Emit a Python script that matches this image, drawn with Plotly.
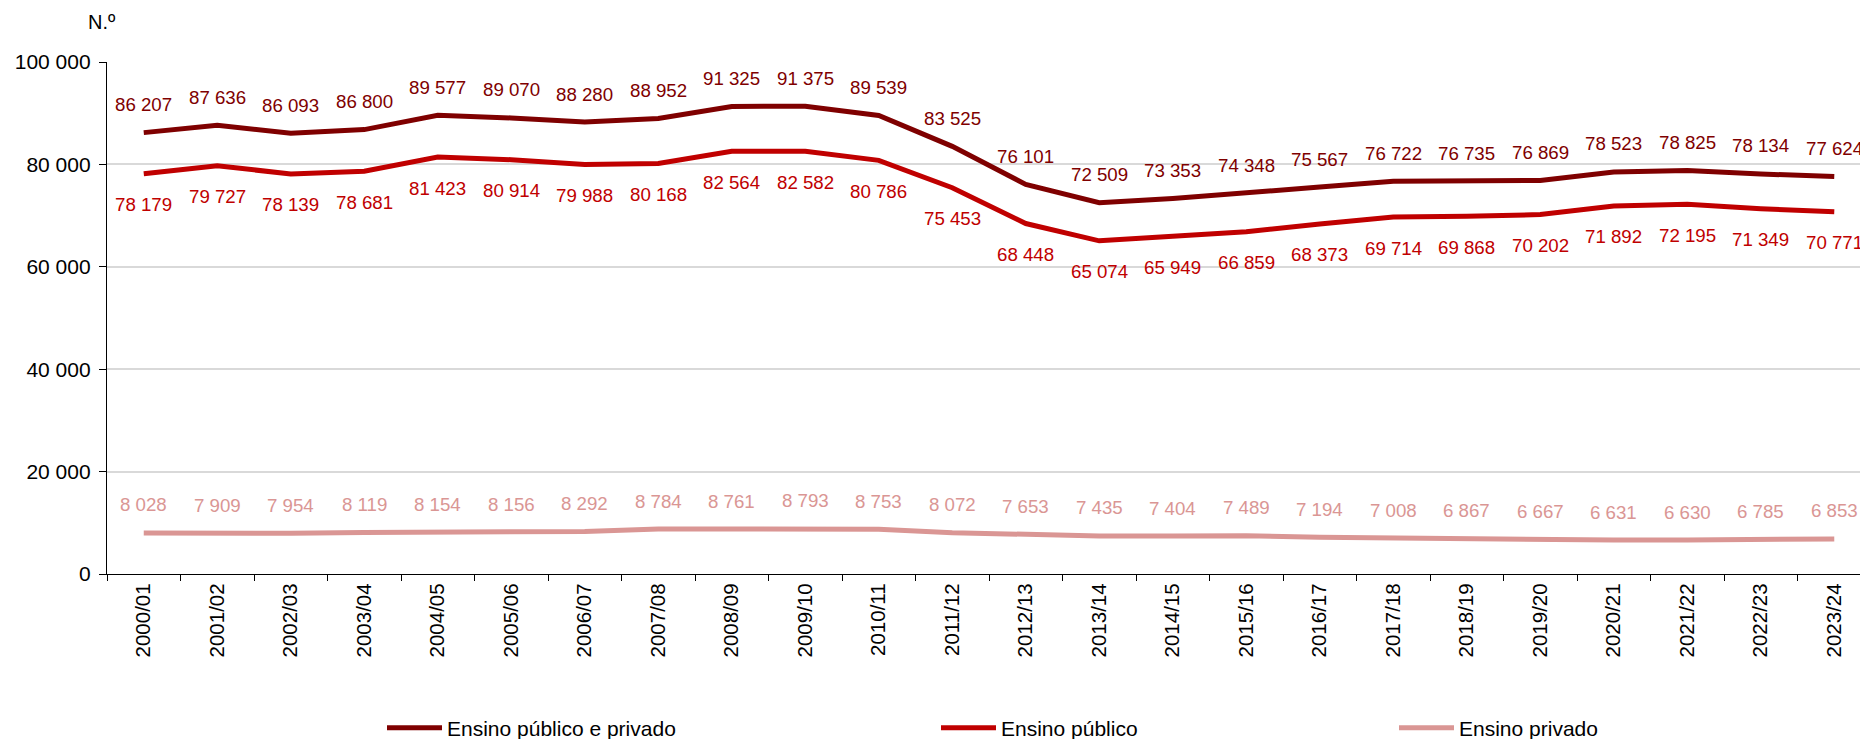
import plotly.graph_objects as go

# School years
years = ["2000/01", "2001/02", "2002/03", "2003/04", "2004/05", "2005/06",
         "2006/07", "2007/08", "2008/09", "2009/10", "2010/11", "2011/12",
         "2012/13", "2013/14", "2014/15", "2015/16", "2016/17", "2017/18",
         "2018/19", "2019/20", "2020/21", "2021/22", "2022/23", "2023/24"]

total = [86207, 87636, 86093, 86800, 89577, 89070, 88280, 88952, 91325, 91375,
         89539, 83525, 76101, 72509, 73353, 74348, 75567, 76722, 76735, 76869,
         78523, 78825, 78134, 77624]

publico = [78179, 79727, 78139, 78681, 81423, 80914, 79988, 80168, 82564, 82582,
           80786, 75453, 68448, 65074, 65949, 66859, 68373, 69714, 69868, 70202,
           71892, 72195, 71349, 70771]

privado = [8028, 7909, 7954, 8119, 8154, 8156, 8292, 8784, 8761, 8793,
           8753, 8072, 7653, 7435, 7404, 7489, 7194, 7008, 6867, 6667,
           6631, 6630, 6785, 6853]

y_ticks = [0, 20000, 40000, 60000, 80000, 100000]

FONT = "Liberation Sans, Arial, sans-serif"

series = [
    ("Ensino público e privado", total, "#7f0000", 28, "legend"),
    ("Ensino público", publico, "#c00000", -31, "legend2"),
    ("Ensino privado", privado, "#da9694", 28, "legend3"),
]


def fmt(v):
    return f"{v:,}".replace(",", " ")


fig = go.Figure()
annotations = []
for name, vals, color, shift, leg in series:
    fig.add_trace(go.Scatter(
        x=years, y=vals, name=name, mode="lines",
        line=dict(color=color, width=5),
        legend=leg, showlegend=True, hoverinfo="skip",
    ))
    for yr, v in zip(years, vals):
        annotations.append(dict(
            x=yr, y=v, xref="x", yref="y", text=fmt(v), showarrow=False,
            yshift=shift, font=dict(family=FONT, size=18.7, color=color),
        ))

annotations.append(dict(
    text="N.º", xref="paper", yref="paper", x=0, y=1, xanchor="center",
    yanchor="middle", xshift=-5, yshift=40, showarrow=False,
    font=dict(family=FONT, size=20, color="#000000"),
))

legend_common = dict(
    orientation="h", xref="container", yref="container", yanchor="middle",
    y=1 - 728 / 739, xanchor="left", itemwidth=55,
    font=dict(family=FONT, size=21, color="#000000"),
    bgcolor="rgba(0,0,0,0)", borderwidth=0,
)

fig.update_layout(
    width=1860, height=739,
    margin=dict(l=107, r=0, t=62, b=165),
    paper_bgcolor="white", plot_bgcolor="white",
    showlegend=True,
    separators=", ",
    annotations=annotations,
    legend=dict(legend_common, x=382 / 1860),
    legend2=dict(legend_common, x=936 / 1860),
    legend3=dict(legend_common, x=1394 / 1860),
    xaxis=dict(
        type="category", range=[-0.5, 23.35],
        showline=True, linecolor="#000000", linewidth=1.3,
        ticks="outside", tickson="boundaries", ticklen=6, tickcolor="#000000",
        tickangle=-90, showgrid=False, zeroline=False,
        tickfont=dict(family=FONT, size=20.5, color="#000000"),
    ),
    yaxis=dict(
        range=[0, 100000], tickvals=y_ticks, tickformat=",d",
        showline=True, linecolor="#000000", linewidth=1.3,
        ticks="outside", ticklen=7, tickcolor="#000000",
        showgrid=True, gridcolor="#d9d9d9", gridwidth=1.5,
        zeroline=False, ticklabelstandoff=4,
        tickfont=dict(family=FONT, size=21, color="#000000"),
    ),
)

fig.write_html("out.html")
